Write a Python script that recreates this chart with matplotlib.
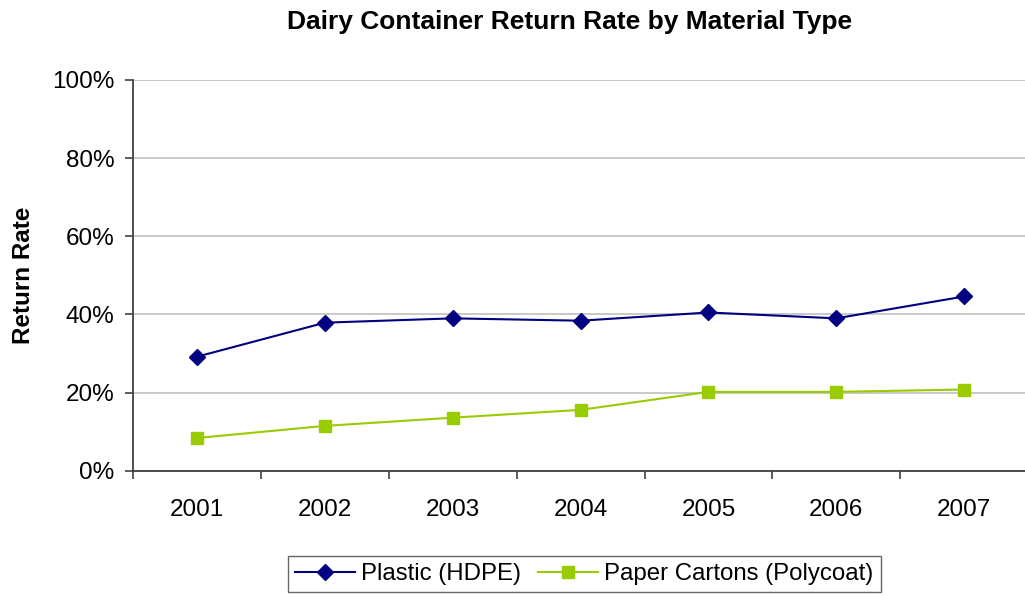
import matplotlib
matplotlib.use("Agg")
import matplotlib.pyplot as plt
from matplotlib.ticker import FuncFormatter, FixedLocator

plt.rcParams['font.family'] = ['Liberation Sans', 'DejaVu Sans']

years = ["2001", "2002", "2003", "2004", "2005", "2006", "2007"]
plastic = [29.2, 37.9, 39.0, 38.4, 40.5, 39.0, 44.6]
paper = [8.4, 11.5, 13.6, 15.6, 20.2, 20.2, 20.8]

fig = plt.figure(figsize=(10.25, 5.96), dpi=100)
ax = fig.add_axes([0.13, 0.21, 0.873, 0.656])

x = list(range(len(years)))
ax.plot(x, plastic, color="#000080", marker="D", markersize=8, linewidth=1.5,
        label="Plastic (HDPE)")
ax.plot(x, paper, color="#99CC00", marker="s", markersize=8, linewidth=1.5,
        label="Paper Cartons (Polycoat)")

ax.set_xlim(-0.5, len(years) - 0.5)
ax.set_ylim(0, 100)
ax.set_yticks(range(0, 101, 20))
ax.yaxis.set_major_formatter(FuncFormatter(lambda v, p: "%d%%" % v))
ax.set_xticks(x)
ax.set_xticklabels(years)
ax.xaxis.set_minor_locator(FixedLocator([i + 0.5 for i in range(-1, len(years))]))
ax.tick_params(axis="x", which="major", length=0, pad=20, labelsize=17.5)
ax.tick_params(axis="x", which="minor", length=6, color="#404040", width=1.2)
ax.tick_params(axis="y", length=5.5, color="#404040", width=1.2, labelsize=17.5, pad=8)

ax.grid(axis="y", color="#c0c0c0", linewidth=1.2)
ax.set_axisbelow(True)
for s in ["top", "right"]:
    ax.spines[s].set_visible(False)
for s in ["left", "bottom"]:
    ax.spines[s].set_color("#404040")
    ax.spines[s].set_linewidth(1.3)

ax.set_ylabel("Return Rate", fontsize=17.5, fontweight="bold", labelpad=12)
fig.text(0.556, 0.963, "Dairy Container Return Rate by Material Type",
         ha="center", va="center", fontsize=19, fontweight="bold")

leg = fig.legend(loc="center", bbox_to_anchor=(0.57, 0.037), ncol=2, fontsize=17.3,
                 frameon=True, fancybox=False, edgecolor="#404040",
                 handlelength=2.5, columnspacing=0.7, handletextpad=0.25,
                 borderpad=0.3, borderaxespad=0)
leg.get_frame().set_linewidth(1.0)

fig.savefig("out.png", dpi=100)
